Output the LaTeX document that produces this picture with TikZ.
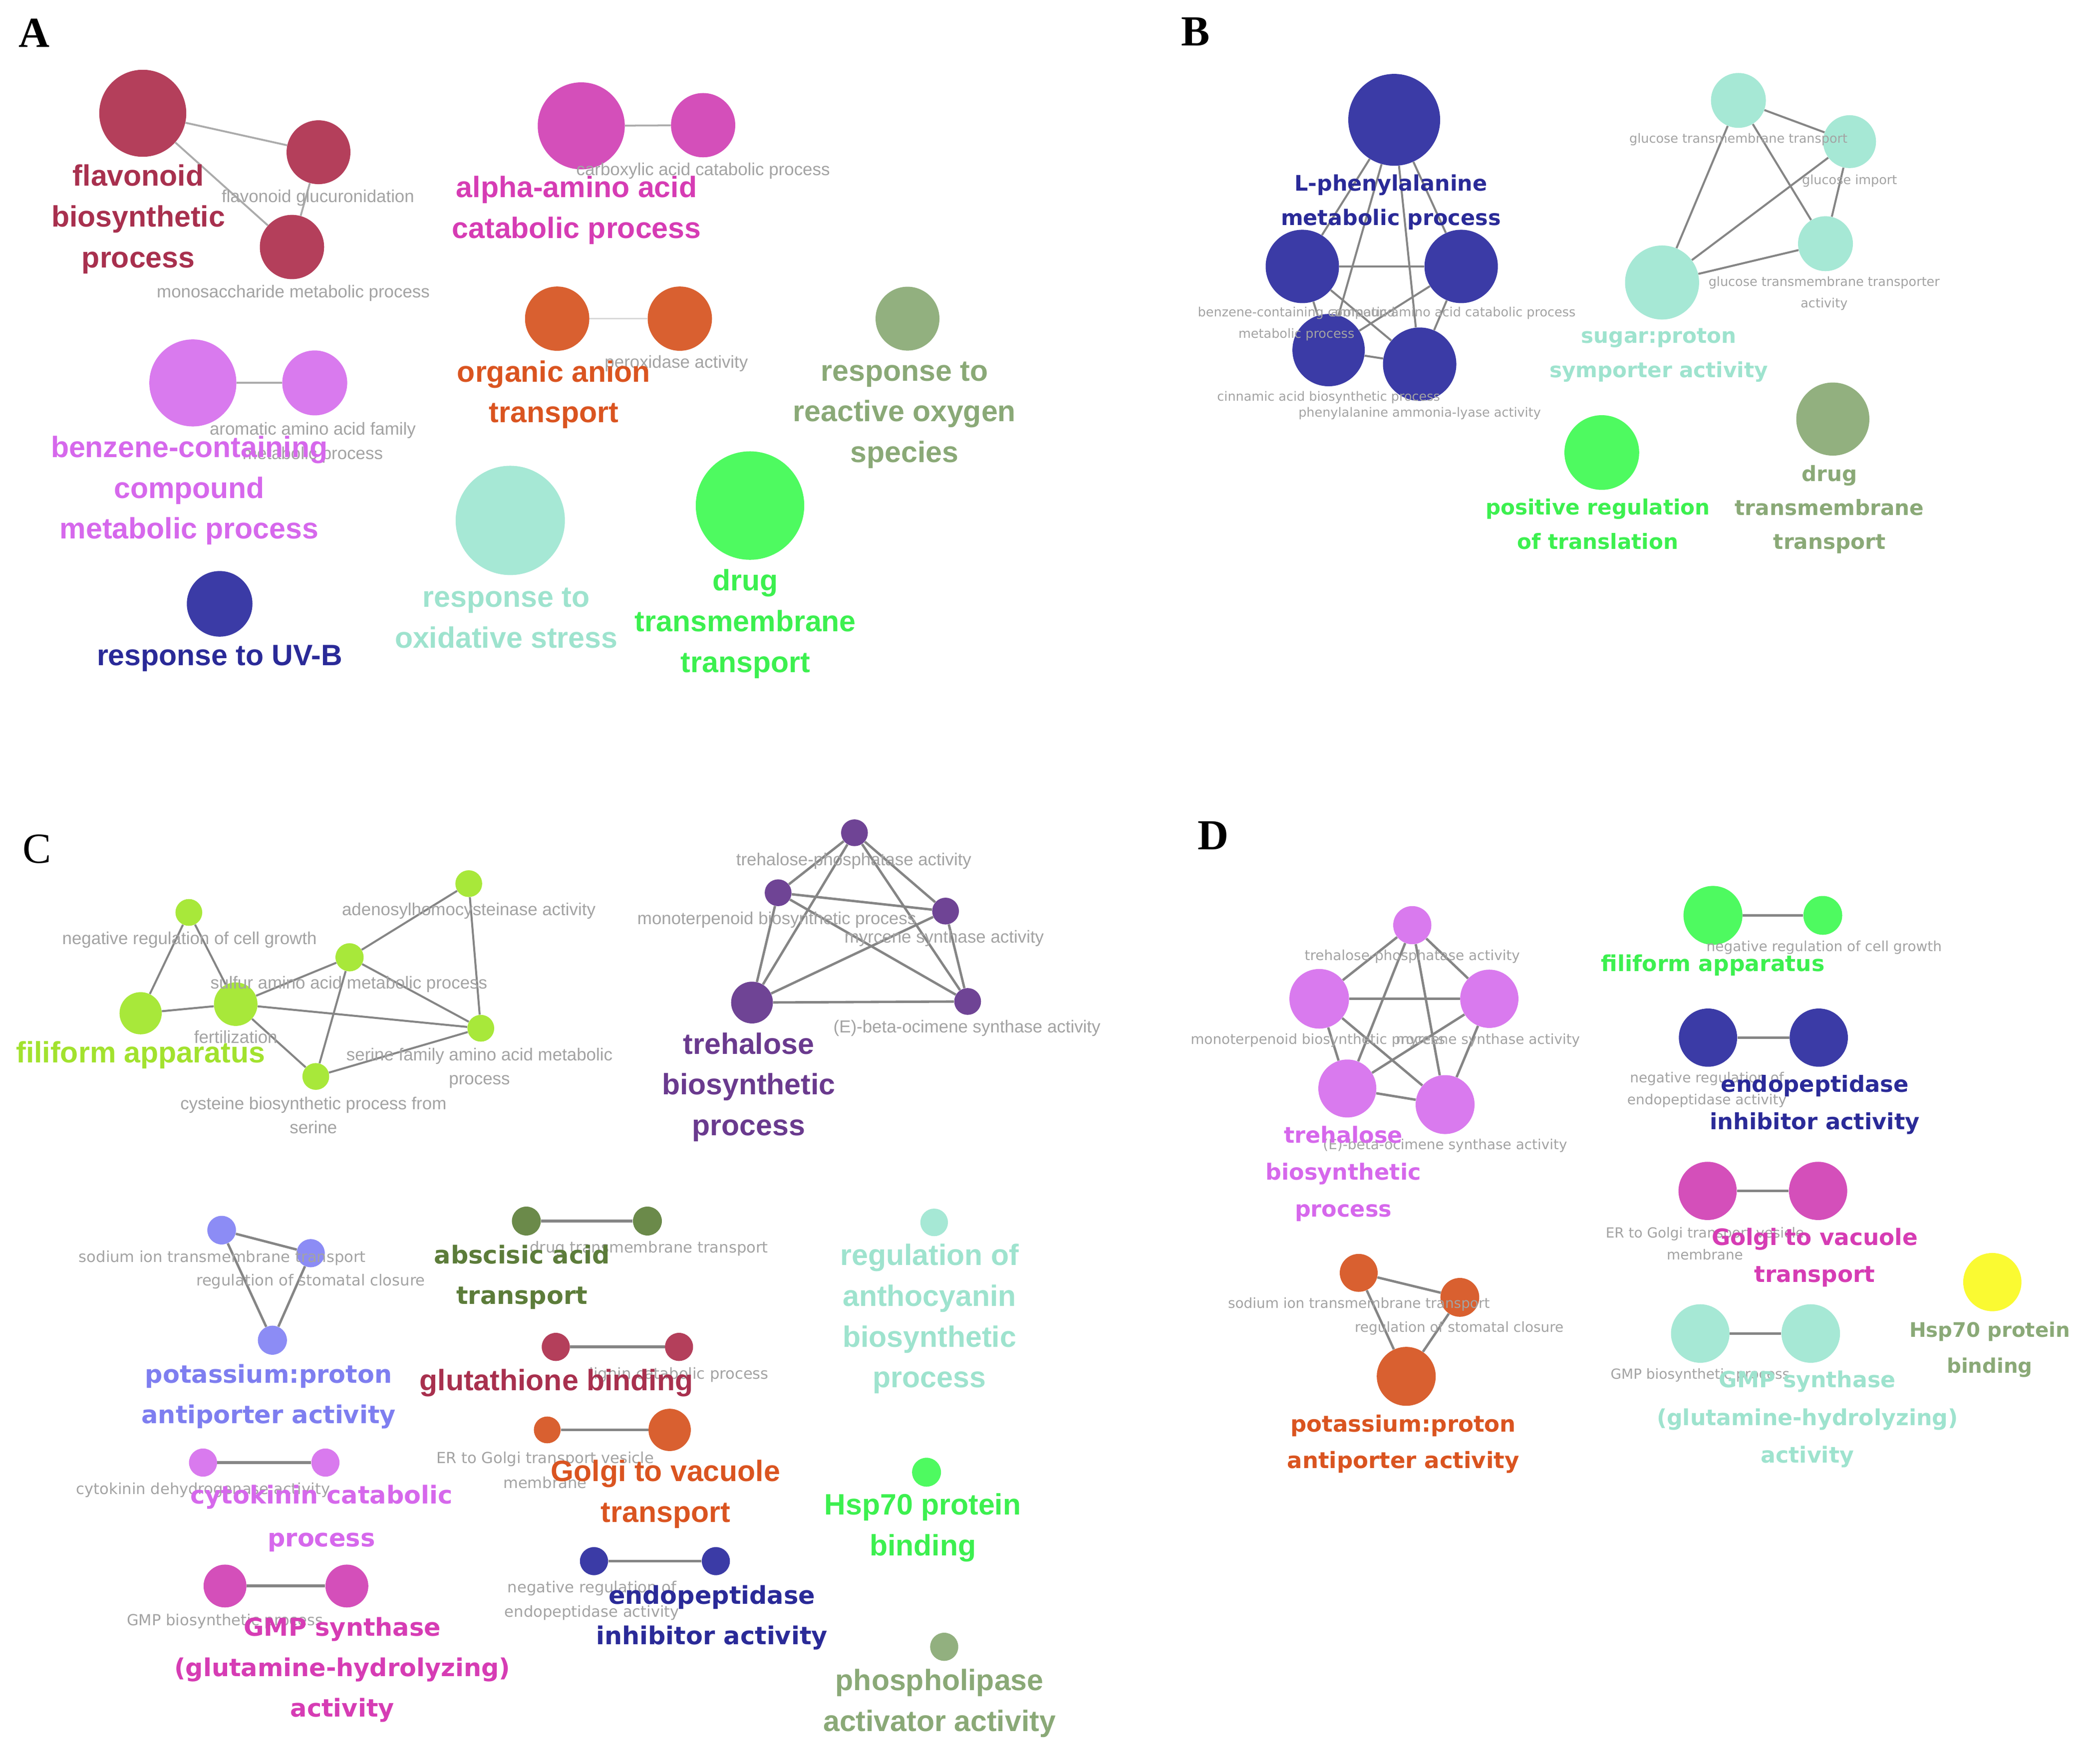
\documentclass[tikz,border=0pt]{standalone}
\usepackage{fontspec}
\setmainfont{Liberation Sans}
\newfontfamily\arialfont{Liberation Sans}
\newfontfamily\verdfont{DejaVu Sans}
\newfontfamily\serifletter{Liberation Serif}

\definecolor{cFlav}{HTML}{B43F5B}
\definecolor{tFlav}{HTML}{A8304E}
\definecolor{cPink}{HTML}{D44FBA}
\definecolor{tPink}{HTML}{D63CB4}
\definecolor{cOrange}{HTML}{D96030}
\definecolor{tOrange}{HTML}{DA5420}
\definecolor{cSage}{HTML}{92B07F}
\definecolor{tSage}{HTML}{8AA977}
\definecolor{cMint}{HTML}{A6E8D5}
\definecolor{tMint}{HTML}{9EE3CE}
\definecolor{cGreen}{HTML}{4EFA60}
\definecolor{tGreen}{HTML}{3CF04F}
\definecolor{cViolet}{HTML}{D97AEE}
\definecolor{tViolet}{HTML}{D668EC}
\definecolor{cNavy}{HTML}{3B3BA6}
\definecolor{tNavy}{HTML}{2A2A98}
\definecolor{cLime}{HTML}{A8E83A}
\definecolor{tLime}{HTML}{A2E22E}
\definecolor{cPurple}{HTML}{6F4495}
\definecolor{tPurple}{HTML}{6A3A8E}
\definecolor{cPeri}{HTML}{8C8CF5}
\definecolor{tPeri}{HTML}{7E7EF0}
\definecolor{cOlive}{HTML}{6B8A4A}
\definecolor{tOlive}{HTML}{5C7C3A}
\definecolor{cYellow}{HTML}{FAFA32}
\definecolor{linkgray}{HTML}{858585}
\definecolor{paleLink}{HTML}{ABABAB}
\definecolor{tinygray}{HTML}{A3A3A3}

\tikzset{
  term/.style={circle, inner sep=0pt, minimum size=#1},
  link/.style={draw=linkgray, line width=1.8pt},
  palelink/.style={draw=paleLink, line width=1.4pt},
  panel/.style={font=\serifletter\bfseries\fontsize{32}{32}\selectfont, inner sep=0pt},
  arbig/.style={font=\arialfont\bfseries\fontsize{22}{30.5}\selectfont, align=center, inner sep=0pt},
  vbigB/.style={font=\verdfont\bfseries\fontsize{15.7}{25.5}\selectfont, align=center, inner sep=0pt},
  vbigC/.style={font=\verdfont\bfseries\fontsize{18.4}{30.2}\selectfont, align=center, inner sep=0pt},
  vbigD/.style={font=\verdfont\bfseries\fontsize{16.6}{27.6}\selectfont, align=center, inner sep=0pt},
  greyA/.style={text=tinygray, font=\arialfont\fontsize{13}{18}\selectfont, align=center, inner sep=0pt},
  greyB/.style={text=tinygray, font=\verdfont\fontsize{9.5}{16}\selectfont, align=center, inner sep=0pt},
  greyC/.style={text=tinygray, font=\verdfont\fontsize{11.4}{18.5}\selectfont, align=center, inner sep=0pt},
  greyD/.style={text=tinygray, font=\verdfont\fontsize{10.4}{16.5}\selectfont, align=center, inner sep=0pt},
}

\begin{document}
\begin{tikzpicture}[x=1pt,y=-1pt]
\fill[white] (0,0) rectangle (1568,1310);
\useasboundingbox (0,0) rectangle (1568,1310);

% panel letters
\node[panel] (letA) at (25.5,24.8) {A};
\node[panel] (letB) at (892.5,23.5) {B};
\node[panel,font=\serifletter\fontsize{32}{32}\selectfont] (letC) at (27.8,634) {C};
\node[panel] (letD) at (906,624) {D};

%%%%%%%%%%%%%%%% A
\node[term=65,fill=cFlav] (flav) at (106.6,84.6) {};
\node[term=47.7,fill=cFlav] (flavglu) at (237.8,113.7) {};
\node[term=48,fill=cFlav] (flavmono) at (218,184.5) {};
\draw[palelink] (flav) -- (flavglu);
\draw[palelink] (flav) -- (flavmono);
\draw[palelink] (flavglu) -- (flavmono);
\node[greyA] (flavglulab) at (237.4,147.7) {flavonoid glucuronidation};
\node[greyA] (flavmonolab) at (219,218.8) {monosaccharide metabolic process};
\node[arbig,text=tFlav] (flavlab) at (103.3,163.8) {flavonoid\\biosynthetic\\process};

\node[term=65,fill=cPink] (amino) at (434,94) {};
\node[term=48,fill=cPink] (carbox) at (525,93.5) {};
\draw[palelink] (amino) -- (carbox);
\node[greyA] (carboxlab) at (525,127.5) {carboxylic acid catabolic process};
\node[arbig,text=tPink] (aminolab) at (430.5,157) {alpha-amino acid\\catabolic process};

\node[term=48,fill=cOrange] (anion) at (416,238) {};
\node[term=48,fill=cOrange] (perox) at (507.6,238) {};
\draw[draw=black!15,line width=1.4pt] (anion) -- (perox);
\node[greyA] (peroxlab) at (505,271.5) {peroxidase activity};
\node[arbig,text=tOrange] (anionlab) at (413.5,294.7) {organic anion\\transport};

\node[term=47.7,fill=cSage] (ros) at (677.6,238) {};
\node[arbig,text=tSage] (roslab) at (675.3,310) {response to\\reactive oxygen\\species};

\node[term=81.6,fill=cMint] (oxid) at (381,388.7) {};
\node[arbig,text=tMint] (oxidlab) at (378,461.5) {response to\\oxidative stress};

\node[term=81,fill=cGreen] (drugA) at (560,377.6) {};
\node[arbig,text=tGreen] (drugAlab) at (556.6,466) {drug\\transmembrane\\transport};

\node[term=65,fill=cViolet] (benz) at (144,286) {};
\node[term=48.5,fill=cViolet] (arom) at (235,286) {};
\draw[palelink] (benz) -- (arom);
\node[greyA] (aromlab) at (233.5,330.6) {aromatic amino acid family\\metabolic process};
\node[arbig,text=tViolet] (benzlab) at (141.3,366.3) {benzene-containing\\compound\\metabolic process};

\node[term=49,fill=cNavy] (uvb) at (164,451) {};
\node[arbig,text=tNavy] (uvblab) at (164,491.6) {response to UV-B};

%%%%%%%%%%%%%%%% B
\node[term=68.6,fill=cNavy] (phen) at (1041,89.5) {};
\node[term=54.8,fill=cNavy] (bbenz) at (972.4,199) {};
\node[term=54.8,fill=cNavy] (barom) at (1091,199) {};
\node[term=54,fill=cNavy] (cinn) at (992,261.5) {};
\node[term=54.8,fill=cNavy] (pal) at (1060,272) {};
\foreach \a/\b in {phen/bbenz,phen/barom,phen/cinn,phen/pal,bbenz/barom,bbenz/cinn,bbenz/pal,barom/cinn,barom/pal,cinn/pal}
  \draw[link,line width=1.5pt] (\a) -- (\b);
\node[greyB] (bbenzlab) at (968,242) {benzene-containing compound\\metabolic process};
\node[greyB] (baromlab) at (1085,234) {aromatic amino acid catabolic process};
\node[greyB] (cinnlab) at (992,297) {cinnamic acid biosynthetic process};
\node[greyB] (pallab) at (1060,308.7) {phenylalanine ammonia-lyase activity};
\node[vbigB,text=tNavy,font=\verdfont\bfseries\fontsize{16}{25.5}\selectfont] (phenlab) at (1038.5,151) {L-phenylalanine\\metabolic process};

\node[term=41,fill=cMint] (gtrans) at (1298,75) {};
\node[term=39.5,fill=cMint] (gimport) at (1381,105.8) {};
\node[term=41,fill=cMint] (gtact) at (1363,182) {};
\node[term=55.3,fill=cMint] (sugar) at (1241,211) {};
\foreach \a/\b in {gtrans/gimport,gtrans/gtact,gtrans/sugar,gimport/gtact,gimport/sugar,gtact/sugar}
  \draw[link,line width=1.5pt] (\a) -- (\b);
\node[greyB] (gtranslab) at (1298,104) {glucose transmembrane transport};
\node[greyB] (gimportlab) at (1381,135) {glucose import};
\node[greyB] (gtactlab) at (1362,219) {glucose transmembrane transporter\\activity};
\node[vbigB,text=tMint] (sugarlab) at (1238.5,265.3) {sugar:proton\\symporter activity};

\node[term=55.8,fill=cGreen] (posreg) at (1196,338) {};
\node[vbigB,text=tGreen] (posreglab) at (1193,391.5) {positive regulation\\of translation};

\node[term=54.6,fill=cSage] (drugB) at (1368.5,313) {};
\node[vbigB,text=tSage] (drugBlab) at (1366,380.5) {drug\\transmembrane\\transport};

%%%%%%%%%%%%%%%% C
\node[term=20,fill=cLime] (negcell) at (141,681.5) {};
\node[term=31.5,fill=cLime] (filiform) at (105,756.8) {};
\node[term=32.5,fill=cLime] (fertil) at (176,750) {};
\node[term=21,fill=cLime] (sulfur) at (261,715) {};
\node[term=20,fill=cLime] (adeno) at (350,660) {};
\node[term=20,fill=cLime] (serfam) at (359,768) {};
\node[term=20,fill=cLime] (cyst) at (235.8,804) {};
\foreach \a/\b in {negcell/filiform,negcell/fertil,filiform/fertil,fertil/sulfur,fertil/serfam,fertil/cyst,sulfur/adeno,sulfur/serfam,sulfur/cyst,adeno/serfam,serfam/cyst}
  \draw[link,line width=1.5pt] (\a) -- (\b);
\node[greyA] (negcelllab) at (141.5,702) {negative regulation of cell growth};
\node[greyA] (adenolab) at (350,680.5) {adenosylhomocysteinase activity};
\node[greyA] (sulfurlab) at (260.5,735) {sulfur amino acid metabolic process};
\node[greyA] (fertillab) at (176,774.5) {fertilization};
\node[greyA,font=\arialfont\fontsize{13}{17.6}\selectfont] (serfamlab) at (358,797.8) {serine family amino acid metabolic\\process};
\node[greyA] (cystlab) at (234,833) {cysteine biosynthetic process from\\serine};
\node[arbig,text=tLime] (filiformlab) at (105,788) {filiform apparatus};

\node[term=20,fill=cPurple] (trehp) at (638,622) {};
\node[term=20,fill=cPurple] (monot) at (581,666.8) {};
\node[term=20,fill=cPurple] (myrc) at (706,680.5) {};
\node[term=31.2,fill=cPurple] (trehC) at (561.5,748.8) {};
\node[term=20,fill=cPurple] (ocim) at (722.5,748) {};
\foreach \a/\b in {trehp/monot,trehp/myrc,trehp/trehC,trehp/ocim,monot/myrc,monot/trehC,monot/ocim,myrc/trehC,myrc/ocim,trehC/ocim}
  \draw[link] (\a) -- (\b);
\node[greyA] (trehplab) at (637.5,643) {trehalose-phosphatase activity};
\node[greyA] (monotlab) at (580,687) {monoterpenoid biosynthetic process};
\node[greyA] (myrclab) at (705,701) {myrcene synthase activity};
\node[greyA] (ocimlab) at (722,768) {(E)-beta-ocimene synthase activity};
\node[arbig,text=tPurple] (trehClab) at (559,812) {trehalose\\biosynthetic\\process};

% lower part of C
\node[term=21.4,fill=cPeri] (sodC) at (165.5,918.8) {};
\node[term=21,fill=cPeri] (stomC) at (232,936) {};
\node[term=21.7,fill=cPeri] (potC) at (203.4,1001) {};
\draw[link] (sodC) -- (stomC);
\draw[link] (sodC) -- (potC);
\draw[link] (stomC) -- (potC);
\node[greyC] (sodClab) at (166,939.6) {sodium ion transmembrane transport};
\node[greyC] (stomClab) at (232,957) {regulation of stomatal closure};
\node[vbigC,text=tPeri] (potClab) at (200.6,1043) {potassium:proton\\antiporter activity};

\node[term=21,fill=cViolet] (cytdh) at (151.6,1092.4) {};
\node[term=21,fill=cViolet] (cytcat) at (243,1092.4) {};
\draw[link,line width=2.2pt] (cytdh) -- (cytcat);
\node[greyC] (cytdhlab) at (151.7,1113) {cytokinin dehydrogenase activity};
\node[vbigC,text=tViolet,font=\verdfont\bfseries\fontsize{18.4}{32}\selectfont] (cytcatlab) at (240,1134) {cytokinin catabolic\\process};

\node[term=32,fill=cPink] (gmpbio) at (168,1184.6) {};
\node[term=32,fill=cPink] (gmpsyn) at (259,1184.6) {};
\draw[link,line width=2.2pt] (gmpbio) -- (gmpsyn);
\node[greyC] (gmpbiolab) at (168,1211) {GMP biosynthetic process};
\node[vbigC,text=tPink] (gmpsynlab) at (255.6,1247) {GMP synthase\\(glutamine-hydrolyzing)\\activity};

\node[term=21.6,fill=cOlive] (absc) at (393,912) {};
\node[term=21.6,fill=cOlive] (drugtC) at (483.4,912) {};
\draw[link,line width=2.2pt] (absc) -- (drugtC);
\node[greyC] (drugtClab) at (484.5,932.6) {drug transmembrane transport};
\node[vbigC,text=tOlive] (absclab) at (389.7,954) {abscisic acid\\transport};

\node[term=21,fill=cFlav] (glutb) at (415,1006) {};
\node[term=21,fill=cFlav] (lignin) at (507,1006) {};
\draw[link,line width=2.2pt] (glutb) -- (lignin);
\node[greyC] (ligninlab) at (507,1027) {lignin catabolic process};
\node[arbig,text=tFlav] (glutblab) at (415.4,1033) {glutathione binding};

\node[term=20,fill=cOrange] (ergolgi) at (408.6,1068) {};
\node[term=31.6,fill=cOrange] (golgivac) at (500,1068) {};
\draw[link,line width=2.2pt] (ergolgi) -- (golgivac);
\node[greyC] (ergolgilab) at (407,1098) {ER to Golgi transport vesicle\\membrane};
\node[arbig,text=tOrange] (golgivaclab) at (497,1116) {Golgi to vacuole\\transport};

\node[term=21,fill=cNavy] (negendo) at (443.5,1166) {};
\node[term=21,fill=cNavy] (endoC) at (534.5,1166) {};
\draw[link,line width=2.2pt] (negendo) -- (endoC);
\node[greyC] (negendolab) at (442,1195.5) {negative regulation of\\endopeptidase activity};
\node[vbigC,text=tNavy] (endoClab) at (531.5,1208) {endopeptidase\\inhibitor activity};

\node[term=20.6,fill=cMint] (antho) at (697.5,913) {};
\node[arbig,text=tMint] (antholab) at (694,985) {regulation of\\anthocyanin\\biosynthetic\\process};

\node[term=21.6,fill=cGreen] (hspC) at (691.8,1099.6) {};
\node[arbig,text=tGreen] (hspClab) at (689,1141) {Hsp70 protein\\binding};

\node[term=21,fill=cSage] (phospho) at (705,1230) {};
\node[arbig,text=tSage] (phospholab) at (701.5,1272) {phospholipase\\activator activity};

%%%%%%%%%%%%%%%% D
\node[term=28.5,fill=cViolet] (trehpD) at (1054.5,691) {};
\node[term=44.5,fill=cViolet] (monotD) at (985,746) {};
\node[term=43.5,fill=cViolet] (myrcD) at (1112,746) {};
\node[term=43.3,fill=cViolet] (trehD) at (1006,813) {};
\node[term=44,fill=cViolet] (ocimD) at (1079,825) {};
\foreach \a/\b in {trehpD/monotD,trehpD/myrcD,trehpD/trehD,trehpD/ocimD,monotD/myrcD,monotD/trehD,monotD/ocimD,myrcD/trehD,myrcD/ocimD,trehD/ocimD}
  \draw[link] (\a) -- (\b);
\node[greyD] (trehpDlab) at (1054.5,714.5) {trehalose-phosphatase activity};
\node[greyD] (monotDlab) at (984,777) {monoterpenoid biosynthetic process};
\node[greyD] (myrcDlab) at (1111,777) {myrcene synthase activity};
\node[greyD] (ocimDlab) at (1079,855.7) {(E)-beta-ocimene synthase activity};
\node[vbigD,text=tViolet] (trehDlab) at (1003,876.8) {trehalose\\biosynthetic\\process};

\node[term=28.3,fill=cOrange] (sodD) at (1014.5,950.7) {};
\node[term=29,fill=cOrange] (stomD) at (1090,969) {};
\node[term=44,fill=cOrange] (potD) at (1050,1028) {};
\draw[link] (sodD) -- (stomD);
\draw[link] (sodD) -- (potD);
\draw[link] (stomD) -- (potD);
\node[greyD] (sodDlab) at (1014.6,974) {sodium ion transmembrane transport};
\node[greyD] (stomDlab) at (1089.5,992) {regulation of stomatal closure};
\node[vbigD,text=tOrange,font=\verdfont\bfseries\fontsize{16.8}{27}\selectfont] (potDlab) at (1047.7,1078.5) {potassium:proton\\antiporter activity};

\node[term=44,fill=cGreen] (filD) at (1279,683.7) {};
\node[term=29,fill=cGreen] (negcellD) at (1361,683.7) {};
\draw[link] (filD) -- (negcellD);
\node[greyD] (negcellDlab) at (1362,707.8) {negative regulation of cell growth};
\node[vbigD,text=tGreen,font=\verdfont\bfseries\fontsize{16.4}{27}\selectfont] (filDlab) at (1279,720.8) {filiform apparatus};

\node[term=43.5,fill=cNavy] (negendoD) at (1275.3,775) {};
\node[term=43.5,fill=cNavy] (endoD) at (1358,775) {};
\draw[link] (negendoD) -- (endoD);
\node[greyD] (negendoDlab) at (1274.5,814) {negative regulation of\\endopeptidase activity};
\node[vbigD,text=tNavy,font=\verdfont\bfseries\fontsize{16.7}{28}\selectfont] (endoDlab) at (1355,825) {endopeptidase\\inhibitor activity};

\node[term=43.5,fill=cPink] (ergolgiD) at (1275,889.5) {};
\node[term=43.5,fill=cPink] (golgiD) at (1357.5,889.5) {};
\draw[link] (ergolgiD) -- (golgiD);
\node[greyD] (ergolgiDlab) at (1273,928.7) {ER to Golgi transport vesicle\\membrane};
\node[vbigD,text=tPink,font=\verdfont\bfseries\fontsize{16.9}{27.4}\selectfont] (golgiDlab) at (1355,939.3) {Golgi to vacuole\\transport};

\node[term=43.7,fill=cMint] (gmpbioD) at (1269.5,996) {};
\node[term=43.7,fill=cMint] (gmpsynD) at (1352,996) {};
\draw[link] (gmpbioD) -- (gmpsynD);
\node[greyD] (gmpbioDlab) at (1269.4,1027) {GMP biosynthetic process};
\node[vbigD,text=tMint,font=\verdfont\bfseries\fontsize{16.5}{28}\selectfont] (gmpsynDlab) at (1349.5,1060) {GMP synthase\\(glutamine-hydrolyzing)\\activity};

\node[term=43.5,fill=cYellow] (hspD) at (1487.6,957.6) {};
\node[vbigD,text=tSage,font=\verdfont\bfseries\fontsize{15}{27}\selectfont] (hspDlab) at (1485.6,1008) {Hsp70 protein\\binding};

\end{tikzpicture}
\end{document}
